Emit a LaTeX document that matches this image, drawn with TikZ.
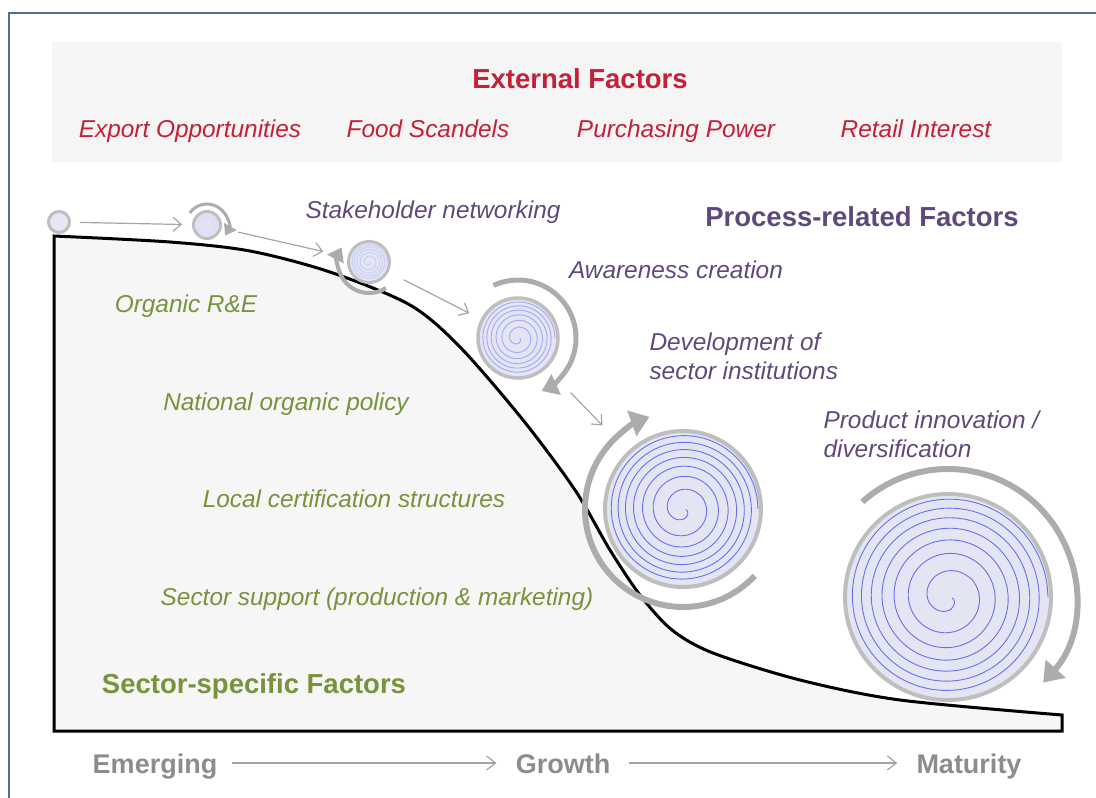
\documentclass[tikz,border=0pt]{standalone}
\usepackage{fontspec}
\setmainfont{Liberation Sans}
\usetikzlibrary{arrows.meta}

\definecolor{extred}{RGB}{196,32,56}
\definecolor{procpurple}{RGB}{95,73,122}
\definecolor{secgreen}{RGB}{119,147,60}
\definecolor{stagegray}{RGB}{140,140,140}
\definecolor{boxgray}{RGB}{245,245,245}
\definecolor{slopegray}{RGB}{246,246,246}
\definecolor{frameblue}{RGB}{79,110,150}
\definecolor{ballfill}{RGB}{227,230,242}
\definecolor{rimgray}{RGB}{190,190,190}
\definecolor{turngray}{RGB}{172,172,172}
\definecolor{flowgray}{RGB}{165,165,165}
\definecolor{spiralblue}{RGB}{105,110,240}

% spiral inside a ball: centre, radius, turns, colour
\newcommand{\ballspiral}[4]{%
  \draw[#4, line width=0.9pt, shift={(#1)}]
    plot[domain=12:#3*360, samples=300, smooth, variable=\t]
    ({-\t}:{#2*pow(\t/(#3*360),0.6)});
}

\tikzset{
  head/.style={font=\fontsize{27.5}{32}\selectfont\bfseries, anchor=base},
  item/.style={font=\fontsize{24.4}{29}\selectfont\itshape, anchor=base},
  phase/.style={font=\fontsize{27}{32}\selectfont\bfseries, text=stagegray,
    inner sep=0pt, text height=20pt, text depth=0pt, anchor=base},
  ball/.style={circle, draw=rimgray, fill=ballfill, inner sep=0pt},
  turn/.style={draw=turngray, line width=#1pt,
    -{Triangle[length=2pt 2.8, width=2pt 4]}},
  flow/.style={draw=flowgray, line width=1.2pt,
    -{Straight Barb[length=8pt, width=14pt]}},
  stage/.style={draw=stagegray!80, line width=1.2pt,
    -{Straight Barb[length=9pt, width=14pt]}}
}

\begin{document}
\begin{tikzpicture}[x=1pt, y=1pt]
\useasboundingbox (0,0) rectangle (1096,-798);

% frame and external box
\draw[frameblue, line width=1.5pt] (1110,-13) -- (9,-13) -- (9,-810);
\fill[boxgray] (52,-42) rectangle (1062,-162);

\node[head, text=extred] (ext) at (580,-88) {External Factors};
\node[item, text=extred] (f1) at (190,-137.5) {Export Opportunities};
\node[item, text=extred] (f2) at (428,-137.5) {Food Scandels};
\node[item, text=extred] (f3) at (676,-137.5) {Purchasing Power};
\node[item, text=extred] (f4) at (916,-137.5) {Retail Interest};

% the slope
\draw[fill=slopegray, line width=3pt]
  (54,-731) -- plot[smooth, tension=0.5] coordinates {
    (54,-236) (170,-242) (250,-251) (330,-272) (410,-305) (460,-347)
    (523,-420) (575,-490) (610,-550) (640,-595) (672,-630) (713,-653)
    (800,-680) (900,-700) (1062,-715)}
  -- (1062,-731) -- cycle;

% rolling balls
\node[ball, line width=3pt, minimum size=21pt] (b1) at (59,-222) {};
\node[ball, line width=3pt, minimum size=27pt] (b2) at (207,-225) {};
\node[ball, line width=3pt, minimum size=41pt] (b3) at (369,-262) {};
\node[ball, line width=3.5pt, minimum size=80pt] (b4) at (518,-338) {};
\node[ball, line width=4pt, minimum size=156pt] (b5) at (683,-509) {};
\node[ball, line width=4pt, minimum size=206pt] (b6) at (948,-597) {};

\ballspiral{b1}{8}{3}{spiralblue!15}
\ballspiral{b2}{11}{4}{spiralblue!25}
\ballspiral{b3}{18}{5}{spiralblue!35}
\ballspiral{b4}{37}{6}{spiralblue!60}
\ballspiral{b5}{75}{7}{spiralblue}
\ballspiral{b6}{100}{7}{spiralblue}

% turning arrows
\draw[turn=3, shift={(b2)}] (145:21) arc[start angle=145, end angle=-30, radius=21];
\draw[turn=4, shift={(b3)}] (-57:31) arc[start angle=-57, end angle=-208, radius=31];
\draw[turn=5, shift={(b4)}] (115:58) arc[start angle=115, end angle=-66, radius=58];
\draw[turn=6, shift={(b5)}] (-43:98) arc[start angle=-43, end angle=-250, radius=98];
\draw[turn=6, shift={(b6)}] (132:128) arc[start angle=132, end angle=-42, radius=128];

% path of the ball
\draw[flow, shorten <=9pt, shorten >=10pt] (b1) -- (b2);
\draw[flow, shorten <=17pt, shorten >=25pt] (b2) -- (b3);
\draw[flow, shorten <=17pt, shorten >=13pt] (b3) -- (b4);
\draw[flow, shorten <=34pt, shorten >=36pt] (b4) -- (b5);

% process-related factors
\node[head, text=procpurple] (proc) at (862,-226) {Process-related Factors};
\node[item, text=procpurple] (p1) at (433,-218.5) {Stakeholder networking};
\node[item, text=procpurple] (p2) at (676,-278.5) {Awareness creation};
\node[item, text=procpurple, align=left, anchor=west] (p3) at (646,-356)
  {Development of\\sector institutions};
\node[item, text=procpurple, align=left, anchor=west] (p4) at (820,-434)
  {Product innovation /\\diversification};

% sector-specific factors
\node[item, text=secgreen] (s1) at (186,-312.5) {Organic R\&E};
\node[item, text=secgreen] (s2) at (286,-410.5) {National organic policy};
\node[item, text=secgreen] (s3) at (354,-507.5) {Local certification structures};
\node[item, text=secgreen] (s4) at (377,-605.5) {Sector support (production \& marketing)};
\node[head, text=secgreen] (sec) at (254,-693) {Sector-specific Factors};

% stages
\node[phase] (em) at (155,-773) {Emerging};
\node[phase] (gr) at (563,-773) {Growth};
\node[phase] (ma) at (969,-773) {Maturity};
\draw[stage, shorten <=15pt, shorten >=19pt] (em) -- (gr);
\draw[stage, shorten <=19pt, shorten >=19pt] (gr) -- (ma);
\end{tikzpicture}
\end{document}
